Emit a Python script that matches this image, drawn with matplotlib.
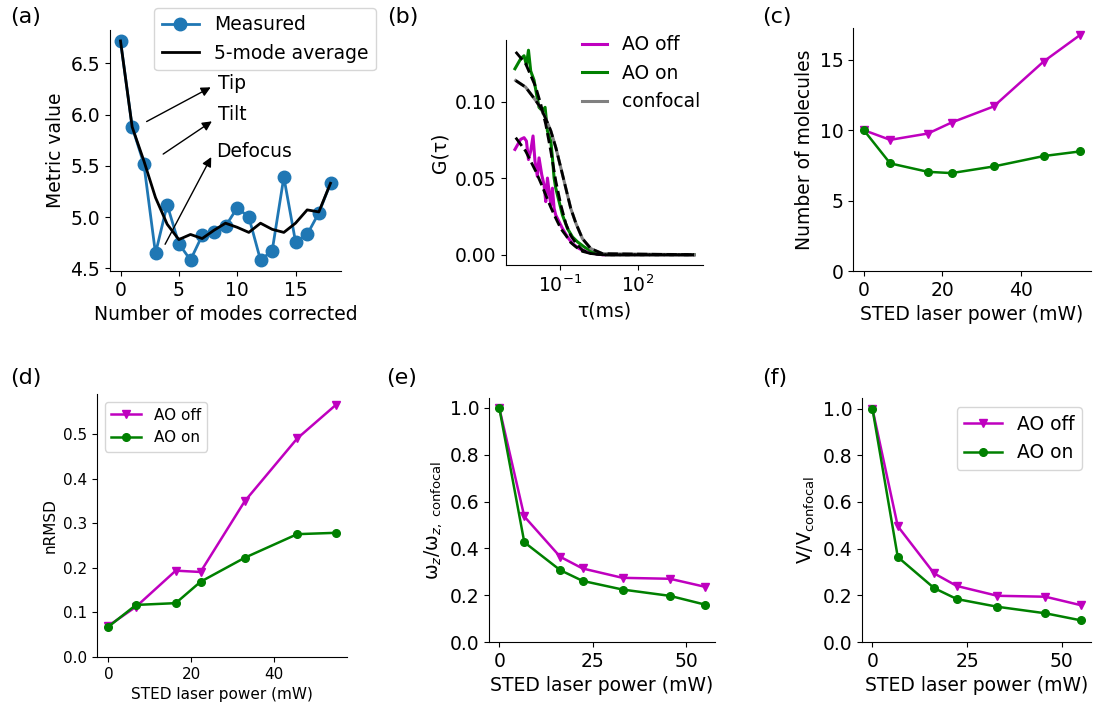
import matplotlib
matplotlib.use("Agg")
import matplotlib.pyplot as plt
from matplotlib.ticker import NullLocator

# (a) sensorless AO metric
modes = list(range(19))
measured = [6.72, 5.88, 5.52, 4.645, 5.12, 4.74, 4.58, 4.82, 4.85, 4.91, 5.09, 5.00,
            4.58, 4.67, 5.39, 4.76, 4.83, 5.04, 5.33]
avg5 = [6.72, 5.88, 5.55, 5.19, 4.93, 4.78, 4.83, 4.79, 4.87, 4.94, 4.90, 4.85,
        4.94, 4.88, 4.85, 4.94, 5.07, 5.05, 5.33]
notes = ["Tip", "Tilt", "Defocus"]
note_tail = [(2.03, 5.92), (3.46, 5.60), (3.71, 4.71)]
note_head = [(7.94, 6.28), (8.03, 5.95), (7.89, 5.61)]
note_text = [(8.37, 6.30), (8.37, 6.00), (8.23, 5.64)]

# (b) correlation curves, tau in ms
tau_off = [0.00191, 0.00316, 0.00427, 0.00525, 0.0063, 0.00767, 0.00942, 0.0112, 0.0138,
           0.016, 0.0203, 0.0249, 0.029, 0.0336, 0.0389, 0.0451, 0.0522, 0.0605, 0.0701,
           0.0942, 0.127, 0.197, 0.307, 0.555, 1.34, 4.37, 14000]
g_off = [0.0688, 0.0754, 0.0765, 0.0743, 0.0622, 0.0677, 0.0776, 0.0611, 0.0512,
         0.0633, 0.0523, 0.0457, 0.0347, 0.0501, 0.0413, 0.0325, 0.0435, 0.0303, 0.0259,
         0.0215, 0.0171, 0.0116, 0.0073, 0.0040, 0.0013, 0.0, 0.0]
tau_on = [0.00191, 0.00316, 0.00427, 0.00525, 0.0063, 0.00767, 0.0103, 0.0138, 0.016,
          0.0215, 0.0273, 0.0336, 0.0451, 0.0522, 0.0605, 0.0701, 0.0942, 0.127, 0.197,
          0.307, 0.479, 0.863, 1.80, 5.9, 14000]
g_on = [0.1215, 0.1280, 0.1300, 0.1240, 0.1336, 0.1200, 0.1140, 0.1020, 0.0963,
        0.0940, 0.0963, 0.0809, 0.0743, 0.0633, 0.0501, 0.0435, 0.0347, 0.0259, 0.0171,
        0.0116, 0.0084, 0.0051, 0.0018, 0.0, 0.0]
tau_fit = [0.00204, 0.0049, 0.012, 0.0186, 0.0288, 0.0451, 0.0708, 0.11, 0.17, 0.263,
           0.417, 0.74, 1.55, 4.37, 14000]
g_conf = [0.1138, 0.1095, 0.1007, 0.0960, 0.0890, 0.0810, 0.0699, 0.0567, 0.0435, 0.0303,
          0.0204, 0.0105, 0.0040, 0.0007, 0.0]
fit_off = [0.0765, 0.0677, 0.0545, 0.0470, 0.0391, 0.0310, 0.0237, 0.0170, 0.0127, 0.0080,
           0.0051, 0.0022, 0.0008, 0.0, 0.0]
fit_on = [0.1325, 0.1248, 0.1095, 0.0985, 0.0853, 0.0677, 0.0479, 0.0325, 0.0204, 0.0125,
          0.0075, 0.0029, 0.0008, 0.0, 0.0]
fit_conf = [0.1138, 0.1095, 0.1007, 0.0960, 0.0890, 0.0810, 0.0699, 0.0567, 0.0435, 0.0303,
            0.0204, 0.0105, 0.0040, 0.0007, 0.0]

# (c)-(f) versus STED power
power = [0, 6.7, 16.3, 22.3, 33.0, 45.7, 55.0]
mol_off = [10.0, 9.31, 9.76, 10.54, 11.68, 14.87, 16.76]
mol_on = [10.0, 7.64, 7.04, 6.95, 7.42, 8.16, 8.49]
rmsd_off = [0.070, 0.113, 0.194, 0.191, 0.350, 0.491, 0.566]
rmsd_on = [0.068, 0.117, 0.121, 0.169, 0.223, 0.276, 0.279]
wz_off = [1.0, 0.536, 0.364, 0.314, 0.274, 0.270, 0.236]
wz_on = [1.0, 0.426, 0.307, 0.261, 0.224, 0.197, 0.160]
vol_off = [1.0, 0.496, 0.294, 0.240, 0.198, 0.194, 0.158]
vol_on = [1.0, 0.364, 0.231, 0.184, 0.151, 0.123, 0.093]

W, H = 1094, 711
FS = 13.5


def box(l, t, r, b):
    return [l / W, 1 - b / H, (r - l) / W, (b - t) / H]


def clean(ax, fs=FS):
    ax.spines["top"].set_visible(False)
    ax.spines["right"].set_visible(False)
    ax.tick_params(labelsize=fs)


fig = plt.figure(figsize=(W / 100, H / 100), dpi=100)

# (a)
ax = fig.add_axes(box(110, 30, 341, 271))
ax.plot(modes, measured, "o-", color="#1f77b4", lw=2, ms=9, label="Measured")
ax.plot(modes, avg5, "-", color="k", lw=2, label="5-mode average")
for t, tail, head, pos in zip(notes, note_tail, note_head, note_text):
    ax.annotate("", xy=head, xytext=tail,
                arrowprops=dict(arrowstyle="-|>", color="k", lw=1, mutation_scale=14))
    ax.text(pos[0], pos[1], t, fontsize=FS, va="center", ha="left")
ax.set_xlabel("Number of modes corrected", fontsize=FS)
ax.set_ylabel("Metric value", fontsize=FS)
clean(ax)
ax.legend(fontsize=FS, loc="upper right", bbox_to_anchor=(376 / W, 1 - 8 / H),
          bbox_transform=fig.transFigure, borderaxespad=0)

# (b)
ax = fig.add_axes(box(506, 40, 703, 265))
ax.plot(tau_off, g_off, color="m", lw=2.2, label="AO off")
ax.plot(tau_on, g_on, color="g", lw=2.2, label="AO on")
ax.plot(tau_fit, g_conf, color="gray", lw=2.2, label="confocal")
ax.plot(tau_fit, fit_off, "k--", lw=2)
ax.plot(tau_fit, fit_on, "k--", lw=2)
ax.plot(tau_fit, fit_conf, "k--", lw=2)
ax.set_xscale("log")
ax.set_xticks([1e-1, 1e2])
ax.xaxis.set_minor_locator(NullLocator())
ax.set_yticks([0, 0.05, 0.10])
ax.set_xlabel("τ(ms)", fontsize=FS)
ax.set_ylabel("G(τ)", fontsize=FS)
clean(ax)
ax.legend(fontsize=FS, frameon=False, loc="upper right", handlelength=1.3,
          bbox_to_anchor=(1.07, 1.095))

# (c)
ax = fig.add_axes(box(853, 28, 1091, 271))
ax.plot(power, mol_off, "v-", color="m", lw=1.8, ms=6)
ax.plot(power, mol_on, "o-", color="g", lw=1.8, ms=5.5)
ax.set_ylim(bottom=0)
ax.set_xlabel("STED laser power (mW)", fontsize=FS)
ax.set_ylabel("Number of molecules", fontsize=FS)
clean(ax)

# (d)
FS2 = 11
ax = fig.add_axes(box(97, 394, 347, 657))
ax.plot(power, rmsd_off, "v-", color="m", lw=1.8, ms=6, label="AO off")
ax.plot(power, rmsd_on, "o-", color="g", lw=1.8, ms=5.5, label="AO on")
ax.set_ylim(bottom=0)
ax.set_xlabel("STED laser power (mW)", fontsize=FS2)
ax.set_ylabel("nRMSD", fontsize=FS2)
clean(ax, FS2)
ax.legend(fontsize=FS2, loc="upper left")

# (e)
ax = fig.add_axes(box(489, 398, 715, 642))
ax.plot(power, wz_off, "v-", color="m", lw=1.8, ms=6)
ax.plot(power, wz_on, "o-", color="g", lw=1.8, ms=5.5)
ax.set_ylim(bottom=0)
ax.set_xticks([0, 25, 50])
ax.set_xlabel("STED laser power (mW)", fontsize=FS)
ax.set_ylabel(r"ω$_z$/ω$_{z,\ \mathrm{confocal}}$", fontsize=FS)
clean(ax)

# (f)
ax = fig.add_axes(box(862, 398, 1091, 642))
ax.plot(power, vol_off, "v-", color="m", lw=1.8, ms=6, label="AO off")
ax.plot(power, vol_on, "o-", color="g", lw=1.8, ms=5.5, label="AO on")
ax.set_ylim(bottom=0)
ax.set_xticks([0, 25, 50])
ax.set_xlabel("STED laser power (mW)", fontsize=FS)
ax.set_ylabel(r"V/V$_{\mathrm{confocal}}$", fontsize=FS)
clean(ax)
ax.legend(fontsize=FS, loc="upper right")

# panel letters
for lab, x, y in [("(a)", 10, 17), ("(b)", 387, 17), ("(c)", 762, 17),
                  ("(d)", 10, 378), ("(e)", 386, 378), ("(f)", 762, 378)]:
    fig.text(x / W, 1 - y / H, lab, fontsize=16, va="center", ha="left")

fig.savefig("out.png", dpi=100)
